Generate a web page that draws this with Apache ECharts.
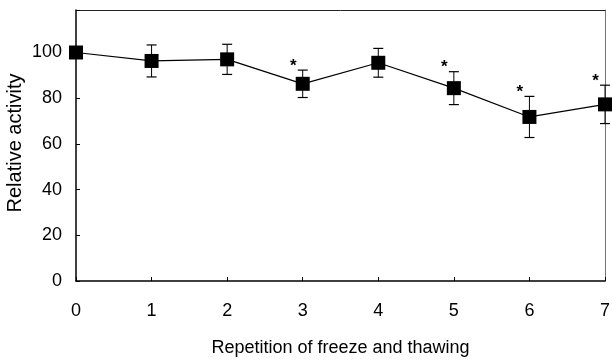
<!DOCTYPE html>
<html>
<head>
<meta charset="utf-8">
<script src="https://cdn.jsdelivr.net/npm/echarts@6/dist/echarts.min.js"></script>
<style>html,body{margin:0;padding:0;background:#fff;}#c{width:612px;height:360px;}</style>
</head>
<body>
<div id="c"></div>
<script>
var repetitions = [0, 1, 2, 3, 4, 5, 6, 7];
var relActivity = [100, 96.3, 97, 86.3, 95.5, 84.4, 71.8, 77.3];
var errSD = [0, 7, 6.6, 6, 6.3, 7.2, 9, 8.4];
var significant = [false, false, false, true, false, true, true, true];
var yTicks = [0, 20, 40, 60, 80, 100];
var yTitle = 'Relative activity';
var xTitle = 'Repetition of freeze and thawing';

var FONT = '"Liberation Sans", Arial, sans-serif';
var chart = echarts.init(document.getElementById('c'), null, {renderer: 'canvas'});

var lineData = repetitions.map(function (x, i) { return [x, relActivity[i]]; });
var errData = repetitions.map(function (x, i) {
  return [x, relActivity[i] - errSD[i], relActivity[i] + errSD[i], significant[i] ? 1 : 0];
});

function renderErr(params, api) {
  var x = api.value(0);
  var lo = api.coord([x, api.value(1)]);
  var hi = api.coord([x, api.value(2)]);
  var children = [];
  var cap = 5;
  if (hi[1] < lo[1] - 0.5) {
    children.push({type: 'line', shape: {x1: lo[0], y1: lo[1], x2: hi[0], y2: hi[1]}, style: {stroke: '#000', lineWidth: 1}});
    children.push({type: 'line', shape: {x1: hi[0] - cap, y1: hi[1], x2: hi[0] + cap, y2: hi[1]}, style: {stroke: '#000', lineWidth: 1.2}});
    children.push({type: 'line', shape: {x1: lo[0] - cap, y1: lo[1], x2: lo[0] + cap, y2: lo[1]}, style: {stroke: '#000', lineWidth: 1.2}});
  }
  if (api.value(3) === 1) {
    children.push({type: 'text', style: {text: '*', x: hi[0] - 9.5, y: hi[1] - 9 + 5, align: 'center', verticalAlign: 'middle', fill: '#000', font: 'bold 17px ' + FONT}});
  }
  return {type: 'group', children: children};
}

chart.setOption({
  animation: false,
  backgroundColor: '#fff',
  grid: {left: 76, right: 7, top: 10, bottom: 79, containLabel: false, outerBoundsMode: 'none'},
  graphic: [{
    type: 'text', x: 15, y: 143, rotation: Math.PI / 2,
    style: {text: yTitle, font: '20px ' + FONT, fill: '#000', align: 'center', verticalAlign: 'middle'}
  }],
  xAxis: [{
    type: 'value', min: 0, max: 7, interval: 1,
    name: xTitle, nameLocation: 'middle', nameGap: 58,
    nameTextStyle: {fontFamily: FONT, fontSize: 18, color: '#000'},
    axisLine: {show: true, lineStyle: {color: '#000', width: 1.5}},
    axisTick: {show: true, inside: true, length: 4, lineStyle: {color: '#000'}},
    axisLabel: {fontFamily: FONT, fontSize: 18, color: '#000', margin: 21},
    splitLine: {show: false}
  }, {
    type: 'value', position: 'top', min: 0, max: 7,
    axisLine: {show: true, onZero: false, lineStyle: {color: '#222', width: 1}},
    axisTick: {show: false}, axisLabel: {show: false}, splitLine: {show: false}
  }],
  yAxis: [{
    type: 'value', min: 0, max: 118.6, interval: 20,
    axisLine: {show: true, lineStyle: {color: '#000', width: 1.5}},
    axisTick: {show: true, inside: true, length: 4, lineStyle: {color: '#000'}},
    axisLabel: {fontFamily: FONT, fontSize: 18, color: '#000', margin: 14,
      formatter: function (v) { return yTicks.indexOf(v) >= 0 ? String(v) : ''; }},
    splitLine: {show: false}
  }, {
    type: 'value', position: 'right', min: 0, max: 118.6,
    axisLine: {show: true, onZero: false, lineStyle: {color: '#777', width: 1}},
    axisTick: {show: false}, axisLabel: {show: false}, splitLine: {show: false}
  }],
  series: [{
    type: 'line', data: lineData, xAxisIndex: 0, yAxisIndex: 0,
    symbol: 'rect', symbolSize: 14, showAllSymbol: true,
    itemStyle: {color: '#000'}, lineStyle: {color: '#000', width: 1.2},
    clip: false, z: 3
  }, {
    type: 'custom', data: errData, xAxisIndex: 0, yAxisIndex: 0,
    renderItem: renderErr, clip: false, z: 2,
    encode: {x: 0, y: [1, 2]}
  }]
});
</script>
</body>
</html>
